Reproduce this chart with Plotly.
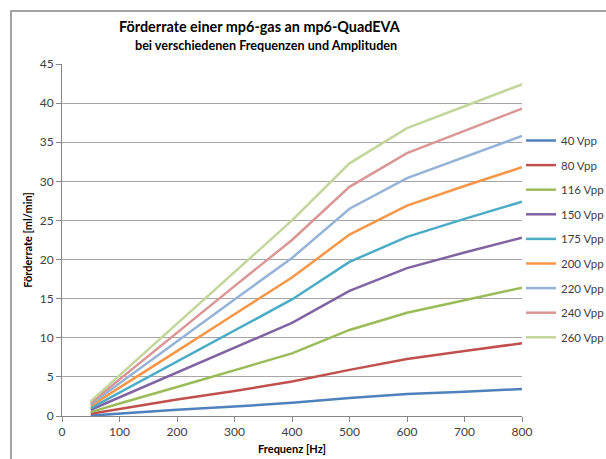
import plotly.graph_objects as go

freq = [50, 100, 200, 300, 400, 500, 600, 700, 800]
series_names = ["40 Vpp", "80 Vpp", "116 Vpp", "150 Vpp", "175 Vpp",
                "200 Vpp", "220 Vpp", "240 Vpp", "260 Vpp"]
v40 = [0.05, 0.3, 0.8, 1.2, 1.7, 2.3, 2.8, 3.1, 3.45]
v80 = [0.3, 0.9, 2.1, 3.2, 4.4, 5.9, 7.3, 8.3, 9.3]
v116 = [0.5, 1.6, 3.7, 5.9, 8.0, 11.0, 13.2, 14.8, 16.4]
v150 = [0.8, 2.4, 5.6, 8.7, 11.9, 16.0, 18.9, 20.9, 22.8]
v175 = [1.0, 3.0, 7.0, 10.9, 14.9, 19.7, 22.9, 25.2, 27.4]
v200 = [1.3, 3.6, 8.3, 13.0, 17.7, 23.2, 26.9, 29.4, 31.8]
v220 = [1.5, 4.2, 9.5, 14.9, 20.2, 26.5, 30.4, 33.1, 35.8]
v240 = [1.7, 4.7, 10.6, 16.6, 22.5, 29.3, 33.6, 36.5, 39.3]
v260 = [1.9, 5.2, 11.8, 18.4, 25.0, 32.3, 36.8, 39.6, 42.4]
values = [v40, v80, v116, v150, v175, v200, v220, v240, v260]
colors = ["#4F81BD", "#C0504D", "#9BBB59", "#8064A2", "#4BACC6",
          "#F79646", "#95B3D7", "#D99694", "#C3D69B"]

W, H = 606, 459
L, R, T, B = 62, 84, 64, 43
pw, ph = W - L - R, H - T - B

def px(x):
    return (x - L) / pw

def py(y):
    return (H - B - y) / ph

FONT = "Lato"
fig = go.Figure()
for name, vals, c in zip(series_names, values, colors):
    fig.add_trace(go.Scatter(x=freq, y=vals, name=name, mode="lines",
                             line=dict(color=c, width=2.5),
                             legendgroup=name))

fig.update_layout(
    width=W, height=H,
    margin=dict(l=L, r=R, t=T, b=B, pad=0, autoexpand=False),
    paper_bgcolor="white", plot_bgcolor="white",
    font=dict(family=FONT, size=12, color="#404040"),
    showlegend=True,
    legend=dict(x=px(521), y=py(126), xanchor="left", yanchor="top",
                font=dict(family=FONT, size=11.5, color="#404040"),
                tracegroupgap=5.6, bgcolor="rgba(0,0,0,0)"),
    xaxis=dict(range=[0, 800], dtick=100, tick0=0, showgrid=False,
               showline=True, linecolor="#868686", linewidth=1,
               ticks="outside", ticklen=5, tickcolor="#868686",
               tickfont=dict(family=FONT, size=12, color="#404040"),
               zeroline=False, automargin=False,
               title=dict(text="<b>Frequenz [Hz]</b>", standoff=6,
                          font=dict(family=FONT, size=11, color="#000000"))),
    yaxis=dict(range=[0, 45], dtick=5, tick0=0, showgrid=True,
               gridcolor="#A6A6A6", gridwidth=1,
               showline=True, linecolor="#868686", linewidth=1,
               ticks="outside", ticklen=5, tickcolor="#868686",
               tickfont=dict(family=FONT, size=12, color="#404040"),
               zeroline=False, automargin=False,
               title=dict(text="<b>Förderrate [ml/min]</b>", standoff=4,
                          font=dict(family=FONT, size=11, color="#000000"))),
    annotations=[
        dict(text="<b>Förderrate einer mp6-gas an mp6-QuadEVA</b>",
             xref="paper", yref="paper", x=px(260), y=py(26),
             xanchor="center", yanchor="middle", showarrow=False,
             font=dict(family=FONT, size=14.4, color="#000000")),
        dict(text="<b>bei verschiedenen Frequenzen und Amplituden</b>",
             xref="paper", yref="paper", x=px(266), y=py(45),
             xanchor="center", yanchor="middle", showarrow=False,
             font=dict(family=FONT, size=12.6, color="#000000")),
    ],
    shapes=[
        dict(type="rect", xref="paper", yref="paper",
             x0=px(11), x1=px(640), y0=py(480), y1=py(11),
             line=dict(color="#868686", width=1.5), layer="below"),
    ],
)

fig.write_html("out.html",
               config={"displayModeBar": False},
               post_script="document.body.style.margin='0px';document.body.style.overflow='hidden';")
